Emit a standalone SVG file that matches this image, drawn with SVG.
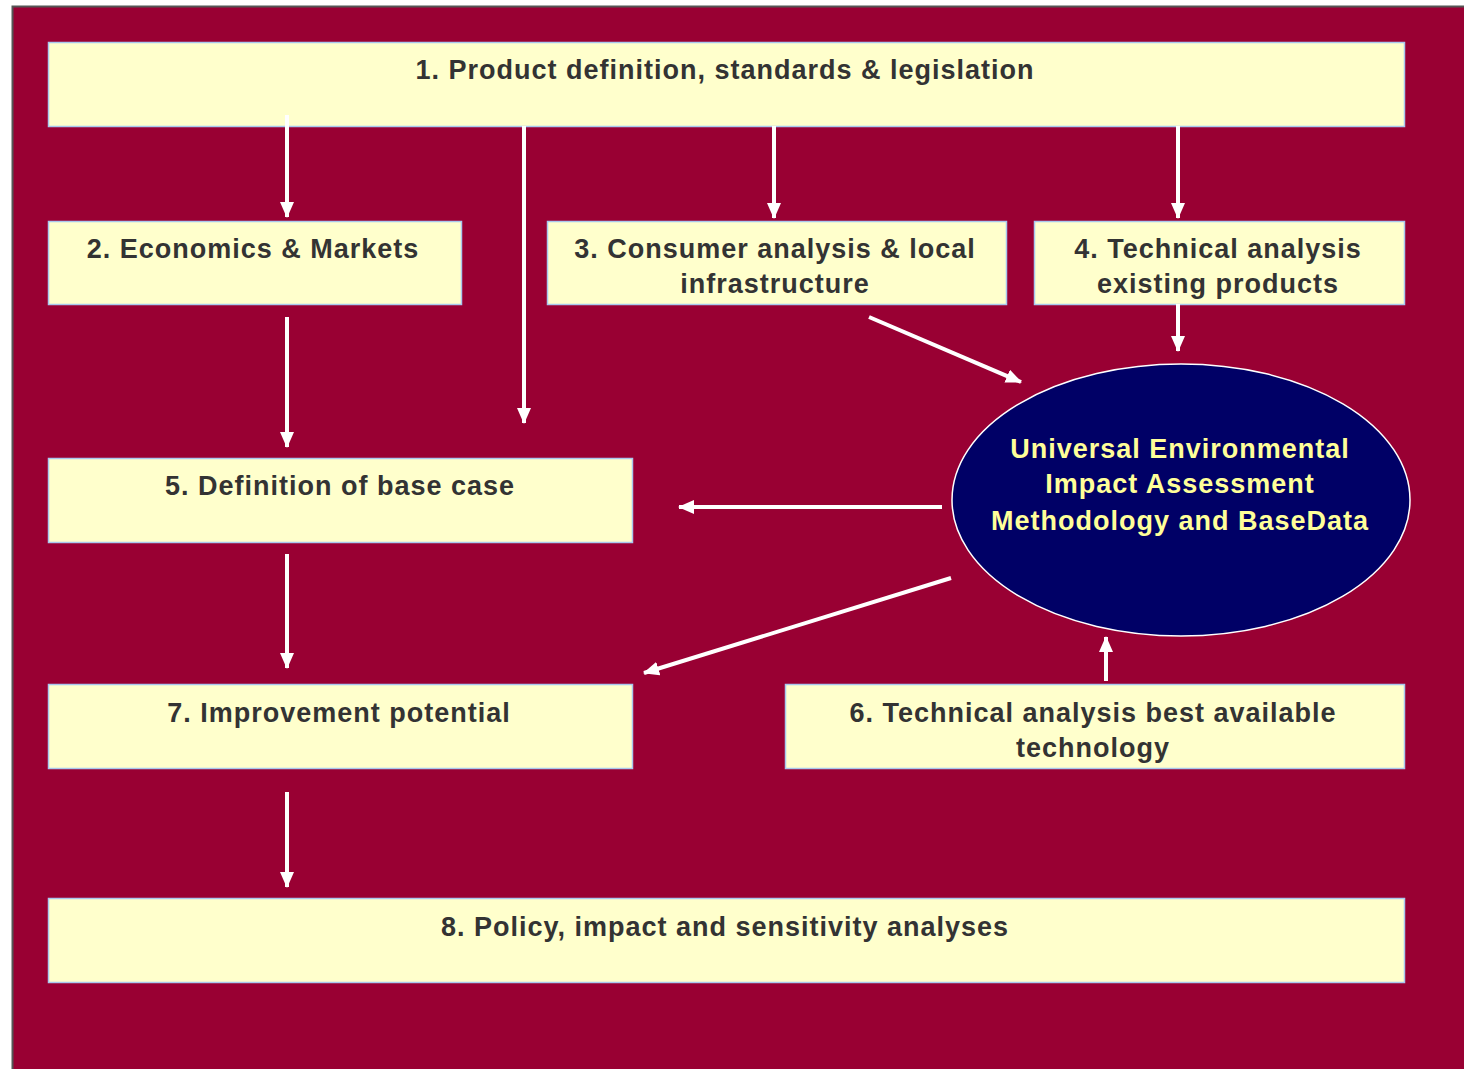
<svg xmlns="http://www.w3.org/2000/svg" width="1464" height="1069" viewBox="0 0 1464 1069">
<defs>
<style>
.box{fill:#FFFFCC;stroke:#A9C8EE;stroke-width:1.5}
.t{font-family:"Liberation Sans",Arial,sans-serif;font-weight:bold;font-size:27px;letter-spacing:1px;fill:#333333;text-anchor:middle}
.te{font-family:"Liberation Sans",Arial,sans-serif;font-weight:bold;font-size:27px;letter-spacing:1px;fill:#FFFF99;text-anchor:middle}
.c{stroke:#FFFFFF;stroke-width:4;fill:none;marker-end:url(#ah)}
</style>
<marker id="ah" markerUnits="userSpaceOnUse" markerWidth="16" markerHeight="14" viewBox="0 0 16 14" refX="15" refY="7" orient="auto">
<path d="M0,0 L16,7 L0,14 Z" fill="#FFFFFF"/>
</marker>
</defs>
<rect x="0" y="0" width="1464" height="1069" fill="#FFFFFF"/>
<rect x="12.5" y="6.5" width="1460" height="1070" fill="#990033" stroke="#555555" stroke-width="2"/>
<g id="n1"><rect class="box" x="48.5" y="42.5" width="1356" height="84"/><text class="t" x="725" y="79">1. Product definition, standards &amp; legislation</text></g>
<g id="n2"><rect class="box" x="48.5" y="221.5" width="413" height="83"/><text class="t" x="253" y="258">2. Economics &amp; Markets</text></g>
<g id="n3"><rect class="box" x="547.5" y="221.5" width="459" height="83"/><text class="t" x="775" y="258">3. Consumer analysis &amp; local</text><text class="t" x="775" y="293">infrastructure</text></g>
<g id="n4"><rect class="box" x="1034.5" y="221.5" width="370" height="83"/><text class="t" x="1218" y="258">4. Technical analysis</text><text class="t" x="1218" y="293">existing products</text></g>
<g id="n5"><rect class="box" x="48.5" y="458.5" width="584" height="84"/><text class="t" x="340" y="495">5. Definition of base case</text></g>
<g id="n7"><rect class="box" x="48.5" y="684.5" width="584" height="84"/><text class="t" x="339" y="722">7. Improvement potential</text></g>
<g id="n6"><rect class="box" x="785.5" y="684.5" width="619" height="84"/><text class="t" x="1093" y="722">6. Technical analysis best available</text><text class="t" x="1093" y="757">technology</text></g>
<g id="n8"><rect class="box" x="48.5" y="898.5" width="1356" height="84"/><text class="t" x="725" y="936">8. Policy, impact and sensitivity analyses</text></g>
<g id="ueim"><ellipse cx="1181" cy="500" rx="229" ry="136" fill="#000066" stroke="#FFFFFF" stroke-width="1.5"/>
<text class="te" x="1180" y="458">Universal Environmental</text>
<text class="te" x="1180" y="493">Impact Assessment</text>
<text class="te" x="1180" y="530">Methodology and BaseData</text></g>
<g id="connectors">
<line class="c" x1="287" y1="115" x2="287" y2="217"/>
<line class="c" x1="524" y1="126" x2="524" y2="423"/>
<line class="c" x1="774" y1="126" x2="774" y2="218"/>
<line class="c" x1="1178" y1="126" x2="1178" y2="218"/>
<line class="c" x1="287" y1="317" x2="287" y2="447"/>
<line class="c" x1="869" y1="317" x2="1021" y2="382"/>
<line class="c" x1="1178" y1="304" x2="1178" y2="351"/>
<line class="c" x1="942" y1="507" x2="679" y2="507"/>
<line class="c" x1="951" y1="578" x2="644" y2="673"/>
<line class="c" x1="287" y1="554" x2="287" y2="668"/>
<line class="c" x1="1106" y1="681" x2="1106" y2="637"/>
<line class="c" x1="287" y1="792" x2="287" y2="887"/>
</g>
</svg>
